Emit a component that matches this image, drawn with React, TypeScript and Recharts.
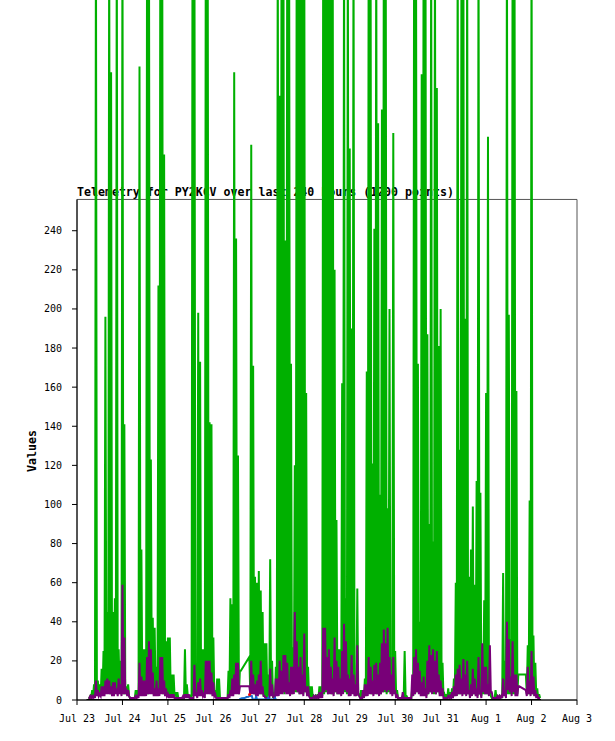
import React from 'react';
import { LineChart, Line, XAxis, YAxis, ReferenceArea, ReferenceLine } from 'recharts';

// values that run past the top edge of the picture
const T = 400;
const START_HOUR = 6; // hours after Jul 23 00:00

// hourly peak readings
const GREEN: (number | null)[] = [
  1, 2, 5, 8, T, 10, 8, 16, 25, 196,
  45, T, 321, 45, 52, T, 26, 20, T, 141,
  7, 8, 1, 1, 1, 5, 5, 324, 77, 26,
  26, T, T, 123, 42, 37, 17, 212, T, T,
  279, 30, 32, 32, 13, 13, 4, 4, 1, 1,
  1, 26, 8, 2, 2, T, T, 17, 198, 173,
  26, 26, T, T, 142, 141, 32, 5, 11, 11,
  1, 1, 1, 1, 15, 52, 49, 321, 236, 125,
  15, null, null, null, null, 22, 284, 171, 63, 60,
  66, 56, 45, 29, 29, 13, 72, 20, 4, 17,
  T, 309, T, T, 235, T, T, 172, 27, 120,
  T, T, T, T, T, 157, 17, 7, 7, 2,
  2, 3, 7, 7, T, T, T, T, T, T,
  220, 92, 26, 26, 162, T, 52, T, 282, 190,
  T, 10, 57, 3, 5, 5, 11, 168, T, T,
  121, 241, T, 295, 105, 302, T, T, 98, 200,
  21, 290, 25, 5, 1, 1, 1, 25, 2, 1,
  1, 6, T, T, 172, 40, 320, T, T, 187,
  90, T, 81, T, 313, 181, 200, 19, 3, 3,
  6, 4, 6, 11, 60, T, 128, T, T, 195,
  T, 63, 77, 99, 59, 112, T, 106, 10, 51,
  157, 288, 6, 1, 1, 5, 1, 2, 2, 65,
  20, T, 197, 31, T, T, 158, 13, null, null,
  null, 13, 28, 102, T, 33, 19, 6, 3,
];

// readings in between (the line drops back down between peaks)
const GREEN_LOW: (number | null)[] = [
  1, 1, 2, 2, 3, 3, 2, 3, 4, 4,
  4, 3, 4, 3, 4, 3, 4, 3, 3, 3,
  3, 2, 1, 1, 1, 2, 2, 2, 3, 3,
  3, 3, 4, 4, 3, 3, 3, 4, 4, 3,
  4, 3, 3, 3, 2, 2, 1, 1, 1, 1,
  1, 2, 2, 1, 1, 2, 3, 3, 3, 3,
  3, 3, 4, 4, 3, 3, 2, 1, 1, 1,
  1, 1, 1, 1, 2, 3, 3, 4, 4, 3,
  15, null, null, null, null, 3, 4, 3, 3, 3,
  3, 3, 2, 1, 1, 1, 2, 1, 1, 2,
  3, 4, 4, 3, 4, 4, 3, 3, 4, 4,
  4, 3, 4, 3, 4, 3, 2, 1, 1, 1,
  1, 1, 2, 2, 3, 4, 3, 4, 3, 3,
  4, 3, 3, 3, 4, 4, 3, 3, 3, 4,
  3, 2, 3, 1, 1, 1, 2, 3, 4, 3,
  3, 4, 3, 4, 3, 4, 4, 3, 4, 4,
  3, 4, 2, 1, 1, 1, 1, 2, 1, 1,
  1, 2, 3, 4, 4, 3, 3, 3, 2, 3,
  4, 4, 3, 3, 4, 3, 3, 2, 1, 1,
  1, 1, 1, 2, 2, 3, 3, 4, 3, 3,
  3, 2, 2, 3, 3, 2, 3, 2, 3, 3,
  3, 3, 2, 1, 1, 1, 1, 1, 1, 2,
  2, 3, 3, 3, 3, 3, 3, 13, null, null,
  null, 3, 3, 3, 3, 2, 2, 1, 1,
];

const PURPLE: (number | null)[] = [
  1, 2, 2, 2, 10, 5, 3, 7, 7, 10,
  11, 10, 7, 9, 9, 6, 11, 8, 59, 32,
  6, 5, 1, 1, 1, 2, 2, 19, 12, 10,
  10, 22, 30, 26, 14, 6, 10, 6, 22, 22,
  10, 6, 3, 3, 3, 3, 1, 1, 1, 1,
  2, 3, 3, 3, 1, 1, 18, 4, 9, 11,
  5, 3, 20, 20, 20, 14, 9, 3, 1, 1,
  1, 1, 1, 1, 3, 5, 11, 13, 19, 19,
  7, null, null, null, null, 7, 20, 13, 8, 10,
  13, 20, 7, 2, 1, 1, 16, 8, 1, 11,
  11, 20, 15, 23, 23, 19, 9, 17, 17, 45,
  30, 17, 22, 13, 34, 7, 7, 1, 1, 2,
  2, 2, 4, 4, 37, 37, 22, 26, 17, 11,
  32, 20, 17, 11, 25, 39, 30, 13, 11, 23,
  13, 8, 28, 2, 1, 5, 8, 8, 22, 17,
  10, 18, 19, 13, 19, 29, 36, 29, 37, 22,
  13, 22, 5, 3, 1, 1, 4, 1, 1, 1,
  1, 13, 22, 26, 19, 15, 9, 12, 6, 20,
  28, 23, 26, 20, 25, 13, 10, 6, 1, 1,
  2, 2, 4, 7, 13, 16, 18, 11, 21, 13,
  20, 5, 8, 16, 11, 6, 22, 4, 29, 17,
  17, 8, 28, 4, 1, 1, 2, 2, 2, 11,
  5, 40, 31, 12, 30, 13, 13, 7, null, null,
  null, 5, 17, 10, 25, 12, 5, 3, 1,
];

const PURPLE_LOW: (number | null)[] = [
  1, 1, 1, 1, 2, 2, 2, 2, 2, 3,
  3, 3, 2, 2, 3, 2, 3, 2, 3, 3,
  2, 2, 1, 1, 1, 1, 1, 2, 2, 2,
  2, 3, 3, 3, 2, 2, 2, 2, 3, 3,
  2, 2, 1, 1, 1, 1, 1, 1, 1, 1,
  1, 1, 1, 1, 1, 1, 2, 1, 2, 2,
  2, 1, 3, 3, 3, 2, 2, 1, 1, 1,
  1, 1, 1, 1, 1, 2, 2, 3, 3, 3,
  7, null, null, null, null, 3, 3, 3, 2, 2,
  3, 3, 2, 1, 1, 1, 2, 2, 1, 2,
  2, 3, 3, 4, 3, 3, 2, 3, 3, 5,
  4, 3, 3, 2, 4, 2, 2, 1, 1, 1,
  1, 1, 1, 1, 4, 5, 3, 3, 3, 2,
  4, 3, 3, 2, 3, 5, 4, 2, 2, 3,
  2, 2, 3, 1, 1, 1, 2, 2, 3, 3,
  2, 3, 3, 2, 3, 4, 5, 4, 5, 3,
  2, 3, 1, 1, 1, 1, 1, 1, 1, 1,
  1, 2, 3, 4, 3, 2, 2, 2, 1, 3,
  4, 3, 4, 3, 4, 2, 2, 1, 1, 1,
  1, 1, 1, 2, 2, 3, 3, 2, 3, 2,
  3, 1, 2, 3, 2, 1, 3, 1, 4, 3,
  3, 2, 4, 1, 1, 1, 1, 1, 1, 2,
  1, 5, 4, 2, 4, 2, 2, 7, null, null,
  null, 2, 3, 2, 3, 2, 1, 1, 1,
];

const BLUE_HOURS = [85.8, 87, 88.5, 89.5, 90.5, 91.3, 92.3, 92.8, 94.2, 94.6, 95.0, 100.6, 101.0, 101.4, 104.2, 104.6, 105.0];
const BLUE_VALUES = [0.4, 0.9, 1.0, 1.5, 1.6, 2.2, 2.1, 0.3, 0.3, 2.0, 0.3, 0.3, 1.2, 0.3, 0.3, 1.0, 0.3];

const RED_HOURS = [91.1];
const RED_VALUES = [2.8];

const BLACK_HOURS = [5, 245];
const BLACK_VALUES = [0, 0];

const DAY_LABELS = ['Jul 23', 'Jul 24', 'Jul 25', 'Jul 26', 'Jul 27', 'Jul 28', 'Jul 29', 'Jul 30', 'Jul 31', 'Aug 1', 'Aug 2', 'Aug 3'];
const X_TICKS = DAY_LABELS.map((_, i) => i * 24);
const Y_TICKS = [0, 20, 40, 60, 80, 100, 120, 140, 160, 180, 200, 220, 240];

const TITLE = 'Telemetry for PY2KCV over last 240 hours (1200 points)';
const Y_LABEL = 'Values';

const rows: { t: number; green: number | null; purple: number | null }[] = [];
GREEN.forEach((g, i) => {
  rows.push({ t: START_HOUR + i, green: g, purple: PURPLE[i] });
  rows.push({ t: START_HOUR + i + 0.5, green: GREEN_LOW[i], purple: PURPLE_LOW[i] });
});
const blueRows = BLUE_HOURS.map((t, i) => ({ t, blue: BLUE_VALUES[i] }));
const redRows = RED_HOURS.map((t, i) => ({ t, red: RED_VALUES[i] }));
const blackRows = BLACK_HOURS.map((t, i) => ({ t, black: BLACK_VALUES[i] }));

const FONT = '"DejaVu Sans Mono", monospace';
const tickStyle = { fontFamily: FONT, fontSize: 10, fill: '#000' };

export default function App() {
  return (
    <div style={{ position: 'absolute', left: 0, top: 0, width: 615, height: 741, background: '#fff' }}>
      <svg width={615} height={741} style={{ position: 'absolute', left: 0, top: 0 }}>
        <text x={77} y={196} fontFamily={FONT} fontWeight="bold" fontSize={11.6} fill="#000">
          {TITLE}
        </text>
        <text
          transform="translate(36,451) rotate(-90)"
          textAnchor="middle"
          fontFamily={FONT}
          fontWeight="bold"
          fontSize={11.6}
          fill="#000"
        >
          {Y_LABEL}
        </text>
      </svg>
      <div style={{ position: 'absolute', left: 0, top: 0 }}>
        <LineChart width={615} height={741} data={rows} margin={{ top: 0, right: 38, bottom: 11, left: 17 }}>
          <XAxis
            dataKey="t"
            type="number"
            domain={[0, 264]}
            allowDataOverflow
            ticks={X_TICKS}
            interval={0}
            tickFormatter={(v: number) => DAY_LABELS[Math.round(v / 24)]}
            axisLine={{ stroke: '#000' }}
            tickLine={{ stroke: '#000' }}
            tickSize={5}
            tickMargin={10}
            height={30}
            tick={tickStyle}
          />
          <YAxis
            type="number"
            domain={[0, 358]}
            allowDataOverflow
            ticks={Y_TICKS}
            interval={0}
            axisLine={false}
            tickLine={{ stroke: '#000' }}
            tickSize={5}
            tickMargin={10}
            width={60}
            tick={tickStyle}
          />
          <ReferenceArea x1={0} x2={264} y1={0} y2={256} fill="none" stroke="#555" strokeWidth={1} />
          <ReferenceLine segment={[{ x: 0, y: 0 }, { x: 0, y: 256 }]} stroke="#000" strokeWidth={1} />
          <Line
            dataKey="green"
            stroke="#00b000"
            strokeWidth={2}
            dot={false}
            activeDot={false}
            connectNulls
            isAnimationActive={false}
          />
          <Line
            dataKey="purple"
            stroke="#780078"
            strokeWidth={2}
            dot={false}
            activeDot={false}
            connectNulls
            isAnimationActive={false}
          />
          <Line
            data={blueRows}
            dataKey="blue"
            stroke="#1a6ecc"
            strokeWidth={2}
            dot={false}
            activeDot={false}
            isAnimationActive={false}
          />
          <Line
            data={redRows}
            dataKey="red"
            stroke="#ff0000"
            strokeWidth={2}
            dot={{ r: 1.5, fill: '#ff0000', stroke: 'none' }}
            activeDot={false}
            isAnimationActive={false}
          />
          <Line
            data={blackRows}
            dataKey="black"
            stroke="#000"
            strokeWidth={2}
            dot={false}
            activeDot={false}
            isAnimationActive={false}
          />
        </LineChart>
      </div>
    </div>
  );
}
